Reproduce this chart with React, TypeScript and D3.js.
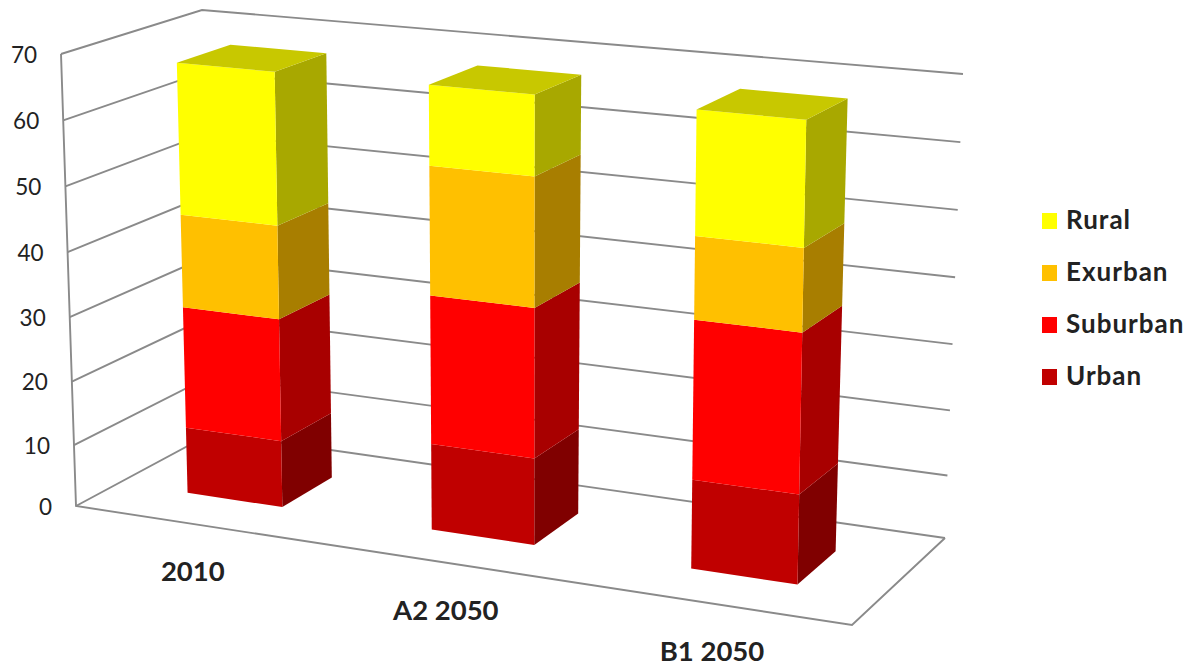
import React from "react";
import * as d3 from "d3";

// Chart values
const scenarios = ["2010", "A2 2050", "B1 2050"];
const urban = [10.8, 13.65, 13.75];
const suburban = [19.05, 22.65, 23.6];
const exurban = [14.35, 19.4, 12.15];
const rural = [23.3, 12.0, 18.2];
const seriesNames = ["Urban", "Suburban", "Exurban", "Rural"];
const valueTicks = [0, 10, 20, 30, 40, 50, 60, 70];
const legendOrder = ["Rural", "Exurban", "Suburban", "Urban"];

// Face shading per series
const frontFill: Record<string, string> = { Urban: "#c00000", Suburban: "#ff0000", Exurban: "#ffc000", Rural: "#ffff00" };
const sideFill: Record<string, string> = { Urban: "#800000", Suburban: "#a80000", Exurban: "#a87e00", Rural: "#a8a800" };
const topFill: Record<string, string> = { Urban: "#9c0000", Suburban: "#cc0000", Exurban: "#cc9a00", Rural: "#c8c800" };

type Pt = [number, number];

// Screen positions of the eight corners of the plot cube
const cube = {
  frontLeft: { floor: [76, 506] as Pt, ceil: [61, 54] as Pt },
  backLeft: { floor: [212, 433] as Pt, ceil: [202, 10] as Pt },
  frontRight: { floor: [852, 625] as Pt, ceil: [861, 129] as Pt },
  backRight: { floor: [945, 538] as Pt, ceil: [963, 74] as Pt },
};

// Vertical spacing opens up slightly with height under the perspective
const heightScale = d3.scalePow().exponent(1.03).domain([0, 70]).range([0, 1]);
const mix = (a: Pt, b: Pt, t: number): Pt => [a[0] + (b[0] - a[0]) * t, a[1] + (b[1] - a[1]) * t];

// Maps (across 0..1, depth 0..1, value) onto the screen
function project(x: number, z: number, v: number): Pt {
  const t = heightScale(v);
  const fl = mix(cube.frontLeft.floor, cube.frontLeft.ceil, t);
  const bl = mix(cube.backLeft.floor, cube.backLeft.ceil, t);
  const fr = mix(cube.frontRight.floor, cube.frontRight.ceil, t);
  const br = mix(cube.backRight.floor, cube.backRight.ceil, t);
  return mix(mix(fl, bl, z), mix(fr, br, z), x);
}

const band = d3.scaleBand<string>().domain(scenarios).range([0, 1]).paddingInner(0.6).paddingOuter(0.3);
// Perspective stretches the categories slightly toward the right
const across = d3.scalePow().exponent(1.07).domain([0, 1]).range([0.005, 0.995]);
const depthFront = 0.32;
const depthBack = 0.71;

const rows = scenarios.map((c, i) => ({
  scenario: c,
  Urban: urban[i],
  Suburban: suburban[i],
  Exurban: exurban[i],
  Rural: rural[i],
}));
const stacked = d3.stack<any>().keys(seriesNames)(rows);

const path = d3.line<Pt>();
const polygon = (pts: Pt[]) => path(pts) + "Z";

const axisColor = "#8a8a8a";
const textColor = "#222222";
const font = "Lato, Carlito, sans-serif";

export default function App() {
  const gridPath = (v: number) =>
    path([project(0, 0, v), project(0, 1, v), project(1, 1, v)]) as string;

  return (
    <svg width={1191} height={667} style={{ position: "absolute", left: 0, top: 0, display: "block", background: "#fff" }} fontFamily={font}>
      <g fill="none" stroke={axisColor} strokeWidth={1.9}>
        {valueTicks.map((v) => (
          <path key={v} d={gridPath(v)} />
        ))}
        <path d={path([project(0, 0, 70), project(0, 0, 0), project(1, 0, 0), project(1, 1, 0)]) as string} />
      </g>

      {valueTicks.map((v) => {
        const [x, y] = project(0, 0, v);
        return (
          <text key={v} x={x - 24} y={y} textAnchor="end" dominantBaseline="central" fontSize={22.5} fill={textColor}>
            {v}
          </text>
        );
      })}

      {scenarios.map((c, i) => {
        const u0 = band(c) as number;
        const x0 = across(u0);
        const x1 = across(u0 + band.bandwidth());
        return (
          <g key={c}>
            {stacked.map((layer) => {
              const [lo, hi] = layer[i];
              const name = layer.key;
              const isTop = name === seriesNames[seriesNames.length - 1];
              return (
                <g key={name}>
                  <path
                    d={polygon([project(x1, depthFront, lo), project(x1, depthBack, lo), project(x1, depthBack, hi), project(x1, depthFront, hi)])}
                    fill={sideFill[name]}
                  />
                  <path
                    d={polygon([project(x0, depthFront, lo), project(x1, depthFront, lo), project(x1, depthFront, hi), project(x0, depthFront, hi)])}
                    fill={frontFill[name]}
                  />
                  {isTop && (
                    <path
                      d={polygon([project(x0, depthFront, hi), project(x1, depthFront, hi), project(x1, depthBack, hi), project(x0, depthBack, hi)])}
                      fill={topFill[name]}
                    />
                  )}
                </g>
              );
            })}
          </g>
        );
      })}

      {scenarios.map((c) => {
        const [x, y] = project(across((band(c) as number) + band.bandwidth() / 2), 0, 0);
        return (
          <text key={c} x={x} y={y + 57} textAnchor="middle" fontSize={27.5} fontWeight={700} fill={textColor}>
            {c}
          </text>
        );
      })}

      {legendOrder.map((name, i) => (
        <g key={name} transform={`translate(1042,${213 + i * 52})`}>
          <rect width={15} height={16} fill={frontFill[name]} />
          <text x={24} y={16} fontSize={26} fontWeight={700} letterSpacing={1} fill={textColor}>
            {name}
          </text>
        </g>
      ))}
    </svg>
  );
}
